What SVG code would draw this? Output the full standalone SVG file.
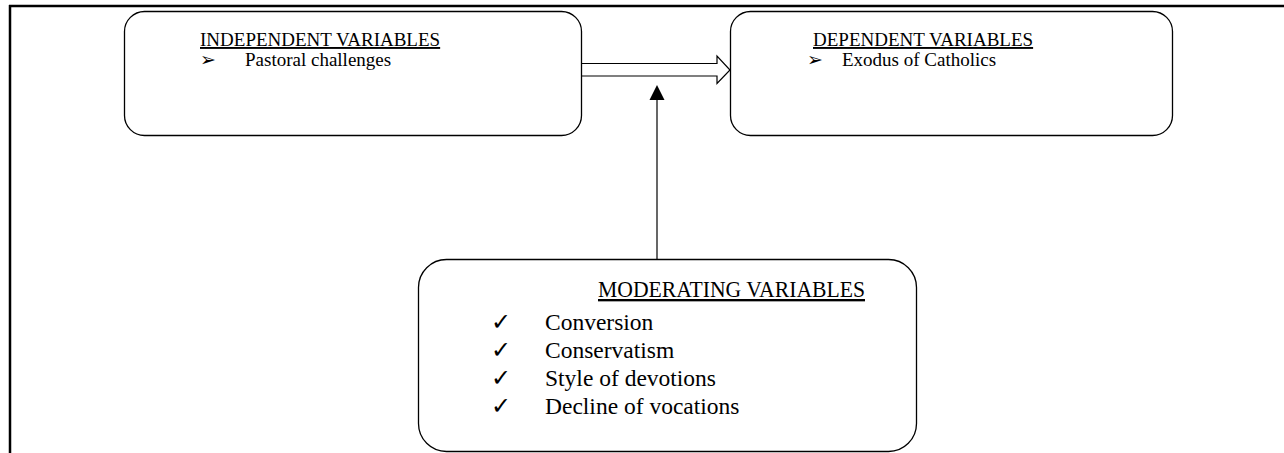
<svg xmlns="http://www.w3.org/2000/svg" width="1284" height="453" viewBox="0 0 1284 453">
<style>
.box{fill:#fff;stroke:#000;stroke-width:1.3}
.t{font-family:"Liberation Serif","Times New Roman",serif;font-size:19px;fill:#000}
.m{font-family:"Liberation Serif","Times New Roman",serif;font-size:23.5px;fill:#000}
.h{text-decoration:underline}
.ln{stroke:#000;stroke-width:1.2;fill:none}
</style>
<rect width="1284" height="453" fill="#fff"/>
<g id="frame">
<line x1="9" y1="6" x2="1284" y2="6" stroke="#000" stroke-width="2.5"/>
<line x1="10" y1="5" x2="10" y2="453" stroke="#000" stroke-width="2.5"/>
</g>
<g id="connectors">
<path d="M582 63.5 H717 V56 L730 70 L717 83.5 V76 H582" fill="#fff" stroke="#000" stroke-width="1.2"/>
<line x1="657" y1="259" x2="657" y2="100" class="ln"/>
<path d="M657 85 L649.5 100 L664.5 100 Z" fill="#000"/>
</g>
<g id="independent">
<rect class="box" x="124.5" y="11.5" width="457" height="124" rx="20"/>
<text class="t h" x="200" y="46">INDEPENDENT VARIABLES</text>
<text class="t" x="200" y="66">➢</text>
<text class="t" x="245" y="66">Pastoral challenges</text>
</g>
<g id="dependent">
<rect class="box" x="730.5" y="11.5" width="442" height="124" rx="20"/>
<text class="t h" x="813" y="46">DEPENDENT VARIABLES</text>
<text class="t" x="807" y="66">➢</text>
<text class="t" x="842" y="66">Exodus of Catholics</text>
</g>
<g id="moderating">
<rect class="box" x="418.5" y="259.5" width="498" height="192" rx="28"/>
<text class="m h" x="598" y="297" textLength="267" lengthAdjust="spacingAndGlyphs">MODERATING VARIABLES</text>
<text class="m" x="491" y="330">✓</text>
<text class="m" x="545" y="330">Conversion</text>
<text class="m" x="491" y="358">✓</text>
<text class="m" x="545" y="358">Conservatism</text>
<text class="m" x="491" y="386">✓</text>
<text class="m" x="545" y="386">Style of devotions</text>
<text class="m" x="491" y="414">✓</text>
<text class="m" x="545" y="414">Decline of vocations</text>
</g>
</svg>
